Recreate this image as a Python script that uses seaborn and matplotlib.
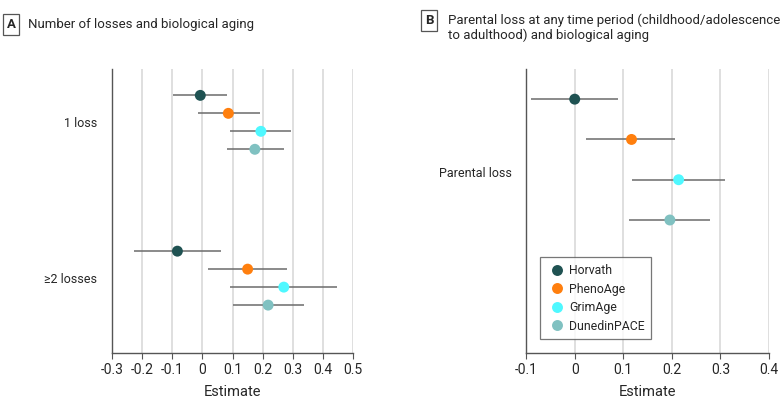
import numpy as np
import pandas as pd
import matplotlib
matplotlib.use("Agg")
import matplotlib.pyplot as plt
import seaborn as sns

# clock names and colours
clocks = ["Horvath", "PhenoAge", "GrimAge", "DunedinPACE"]
clock_colors = ["#1f5252", "#ff7f0e", "#4ff8ff", "#80c1c1"]

# panel A: number of losses
groups_a = ["1 loss", "\u22652 losses"]
est_a = [[-0.007, 0.086, 0.194, 0.174],
         [-0.083, 0.150, 0.270, 0.218]]
low_a = [[-0.096, -0.013, 0.092, 0.080],
         [-0.227, 0.019, 0.092, 0.100]]
high_a = [[0.083, 0.190, 0.295, 0.271],
          [0.062, 0.282, 0.448, 0.337]]

# panel B: parental loss
groups_b = ["Parental loss"]
est_b = [[0.000, 0.117, 0.214, 0.196]]
low_b = [[-0.090, 0.024, 0.117, 0.111]]
high_b = [[0.090, 0.207, 0.310, 0.279]]


def make_df(groups, est, low, high, step):
    rows = []
    for g, name in enumerate(groups):
        for i, clock in enumerate(clocks):
            rows.append({"group": name, "clock": clock, "est": est[g][i],
                         "low": low[g][i], "high": high[g][i],
                         "ypos": g + (i - 1.5) * step})
    return pd.DataFrame(rows)


sns.set_style("white")
plt.rcParams["font.family"] = ["Roboto", "DejaVu Sans"]

fig = plt.figure(figsize=(7.83, 4.08), dpi=100)
ax_a = fig.add_axes([0.143, 0.135, 0.308, 0.695])
ax_b = fig.add_axes([0.672, 0.135, 0.310, 0.695])

palette = dict(zip(clocks, clock_colors))


def draw(ax, df, show_legend):
    ax.hlines(df["ypos"], df["low"], df["high"], color="#6b6b6b", lw=1.1, zorder=2)
    sns.scatterplot(data=df, x="est", y="ypos", hue="clock", palette=palette,
                    s=62, edgecolor="none", ax=ax, zorder=3, legend=show_legend)
    ax.grid(axis="x", color="#d6d6d6", lw=1.1, zorder=0)
    ax.set_axisbelow(True)
    for side in ["top", "right"]:
        ax.spines[side].set_visible(False)
    for side in ["left", "bottom"]:
        ax.spines[side].set_color("#555555")
        ax.spines[side].set_linewidth(1.0)
    ax.tick_params(axis="x", bottom=True, length=4, color="#555555", labelsize=10, pad=3)
    ax.tick_params(axis="y", left=False, labelsize=9, pad=7)
    ax.set_xlabel("Estimate", fontsize=10.5, labelpad=6)
    ax.set_ylabel("")


def fmt(v):
    return "0" if abs(v) < 1e-9 else f"{v:.1f}"


# panel A
df_a = make_df(groups_a, est_a, low_a, high_a, 0.1154)
draw(ax_a, df_a, False)
ticks_a = np.round(np.arange(-0.3, 0.51, 0.1), 1)
ax_a.set_xlim(-0.3, 0.5)
ax_a.set_xticks(ticks_a)
ax_a.set_xticklabels([fmt(v) for v in ticks_a])
ax_a.set_ylim(1.48, -0.34)
ax_a.set_yticks(range(len(groups_a)))
ax_a.set_yticklabels(groups_a)

# panel B
df_b = make_df(groups_b, est_b, low_b, high_b, 1.0)
draw(ax_b, df_b, True)
ticks_b = np.round(np.arange(-0.1, 0.41, 0.1), 1)
ax_b.set_xlim(-0.1, 0.4)
ax_b.set_xticks(ticks_b)
ax_b.set_xticklabels([fmt(v) for v in ticks_b])
ax_b.set_ylim(4.8, -2.24)
ax_b.set_yticks([0.32])
ax_b.set_yticklabels(groups_b)

leg = ax_b.legend(loc="lower left", bbox_to_anchor=(0.058, 0.048), borderaxespad=0,
                  frameon=True, fancybox=False, edgecolor="#555555", fontsize=8.8,
                  handletextpad=0.2, labelspacing=0.45, borderpad=0.55, title=None,
                  handlelength=1.6)
leg.get_frame().set_linewidth(0.9)

# panel titles
box = dict(boxstyle="square,pad=0.3", fc="white", ec="#555555", lw=0.9)
fig.text(0.014, 0.941, "A", fontsize=9.5, fontweight="bold", va="center", ha="center", bbox=box)
fig.text(0.036, 0.941, "Number of losses and biological aging", fontsize=9.5, va="center")
fig.text(0.548, 0.949, "B", fontsize=9.5, fontweight="bold", va="center", ha="center", bbox=box)
fig.text(0.572, 0.967, "Parental loss at any time period (childhood/adolescence\nto adulthood) and biological aging",
         fontsize=9.5, va="top", linespacing=1.15)

fig.savefig("out.png", dpi=100)
